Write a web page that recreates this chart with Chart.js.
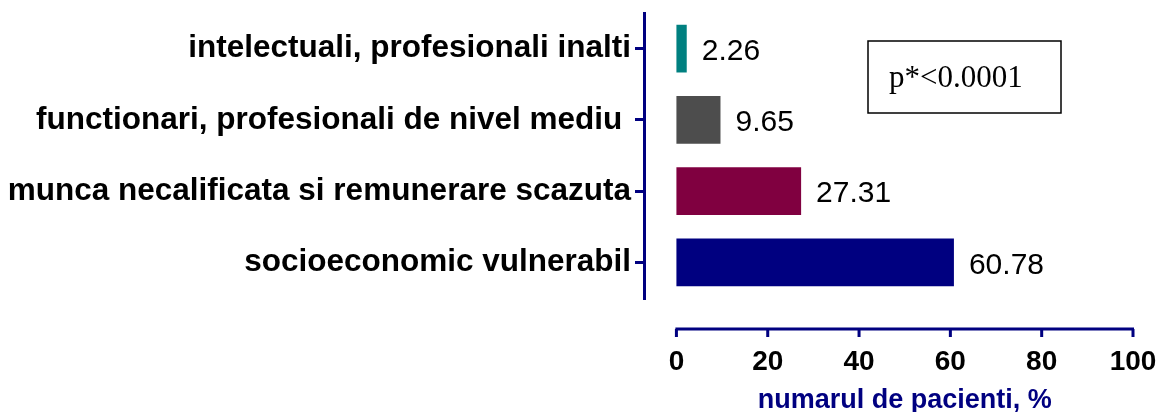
<!DOCTYPE html>
<html>
<head>
    <title>Pacienti dupa statut socioeconomic</title>
    <script src="https://cdn.jsdelivr.net/npm/chart.js"></script>
    <style>
        body { margin: 0; background: #fff; }
        #wrap { width: 1159px; height: 412px; }
    </style>
</head>
<body>
    <div id="wrap"><canvas id="ocupChart"></canvas></div>
    <script>
        // categories top -> bottom
        const categories = [
            'intelectuali, profesionali inalti',
            'functionari, profesionali de nivel mediu ',
            'munca necalificata si remunerare scazuta',
            'socioeconomic vulnerabil'
        ];
        const percent = [2.26, 9.65, 27.31, 60.78];
        const barColors = ['#008080', '#4d4d4d', '#800040', '#000080'];
        const xTicks = [0, 20, 40, 60, 80, 100];
        const axisTitle = 'numarul de pacienti, %';
        const pText = 'p*<0.0001';

        const NAVY = '#000080';

        // value labels next to each bar
        const valueLabels = {
            id: 'valueLabels',
            afterDatasetsDraw(chart) {
                const ctx = chart.ctx;
                const meta = chart.getDatasetMeta(0);
                ctx.save();
                ctx.font = '30px "Liberation Sans", Arial, sans-serif';
                ctx.fillStyle = '#000';
                ctx.textAlign = 'left';
                ctx.textBaseline = 'middle';
                meta.data.forEach((bar, i) => {
                    ctx.fillText(percent[i].toFixed(2), bar.x + 15, bar.y + 3);
                });
                ctx.restore();
            }
        };

        // detached x axis line with tick marks, axis title, p-value box
        const extras = {
            id: 'extras',
            afterDraw(chart) {
                const ctx = chart.ctx;
                const xs = chart.scales.x;
                const area = chart.chartArea;
                const axisY = area.bottom + 31;
                const x0 = xs.getPixelForValue(xTicks[0]);
                const x1 = xs.getPixelForValue(xTicks[xTicks.length - 1]);
                ctx.save();
                ctx.strokeStyle = NAVY;
                ctx.lineWidth = 3;
                ctx.beginPath();
                ctx.moveTo(x0 - 1, axisY);
                ctx.lineTo(x1 + 1, axisY);
                xTicks.forEach(v => {
                    const px = xs.getPixelForValue(v);
                    ctx.moveTo(px, axisY);
                    ctx.lineTo(px, axisY + 8);
                });
                ctx.stroke();

                // axis title, centred under 0..100
                ctx.fillStyle = NAVY;
                ctx.font = 'bold 27px "Liberation Sans", Arial, sans-serif';
                ctx.textAlign = 'center';
                ctx.textBaseline = 'middle';
                ctx.fillText(axisTitle, (x0 + x1) / 2, 401);

                // p box
                const bx = area.left + 224, by = area.top + 28, bw = 193, bh = 72;
                ctx.strokeStyle = '#000';
                ctx.lineWidth = 1.5;
                ctx.strokeRect(bx, by, bw, bh);
                ctx.fillStyle = '#000';
                ctx.font = '31px "Liberation Serif", "Times New Roman", serif';
                ctx.textAlign = 'left';
                ctx.textBaseline = 'alphabetic';
                ctx.fillText(pText, bx + 21, by + 46);
                ctx.restore();
            }
        };

        const ctx = document.getElementById('ocupChart').getContext('2d');
        const chart = new Chart(ctx, {
            type: 'bar',
            data: {
                labels: categories,
                datasets: [{
                    data: percent,
                    backgroundColor: barColors,
                    borderWidth: 0,
                    categoryPercentage: 1,
                    barPercentage: 0.67
                }]
            },
            options: {
                indexAxis: 'y',
                responsive: true,
                maintainAspectRatio: false,
                animation: false,
                layout: { padding: { left: 0, top: 13, right: 26, bottom: 0 } },
                plugins: {
                    legend: { display: false },
                    tooltip: { enabled: false }
                },
                scales: {
                    y: {
                        afterFit: s => {
                            s.width = 644;
                            s.paddingTop = 0;
                            s.paddingBottom = 0;
                        },
                        grid: {
                            display: true,
                            offset: false,
                            drawOnChartArea: false,
                            drawTicks: true,
                            tickLength: 9,
                            color: NAVY,
                            lineWidth: 3
                        },
                        border: { display: true, color: NAVY, width: 3 },
                        ticks: {
                            color: '#000',
                            padding: 4,
                            font: { family: '"Liberation Sans", Arial, sans-serif', size: 31.5, weight: 'bold' }
                        }
                    },
                    x: {
                        min: -7.1,
                        max: 100,
                        afterFit: s => {
                            s.height = 114;
                            s.paddingLeft = 0;
                            s.paddingRight = 0;
                        },
                        afterBuildTicks: s => { s.ticks = xTicks.map(v => ({ value: v })); },
                        grid: { display: false, drawTicks: false },
                        border: { display: false },
                        ticks: {
                            color: '#000',
                            padding: 47,
                            maxRotation: 0,
                            autoSkip: false,
                            font: { family: '"Liberation Sans", Arial, sans-serif', size: 28, weight: 'bold' }
                        }
                    }
                }
            },
            plugins: [valueLabels, extras]
        });
    </script>
</body>
</html>
